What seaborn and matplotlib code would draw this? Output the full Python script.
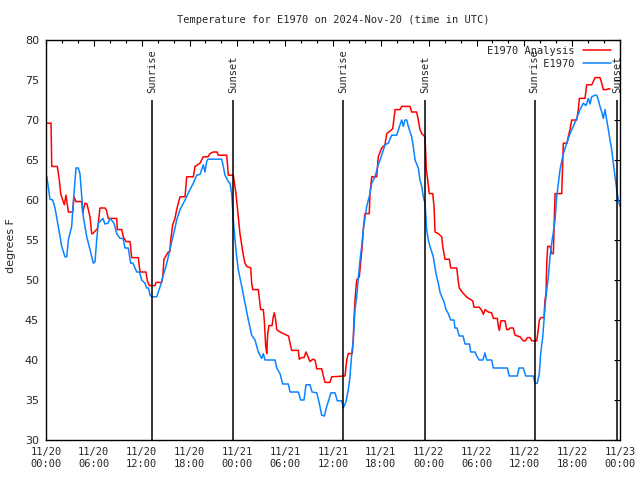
import pandas as pd
import numpy as np
import seaborn as sns
import matplotlib.dates as mdates
from matplotlib import pyplot as plt

# hours since 2024-11-20 00:00 UTC, temperature in degrees F
obs_hours = [0.09, 0.50, 0.84, 1.13, 1.54, 1.97, 2.38, 2.60, 2.80, 3.22, 3.42, 3.76, 4.05, 4.26,
             4.48, 4.68, 5.11, 5.52, 5.93, 6.15, 6.36, 6.56, 7.15, 7.40, 7.78, 8.03, 8.53, 8.87,
             9.28, 9.66, 9.91, 10.32, 10.62, 10.91, 11.38, 11.73, 12.00, 12.42, 12.63, 12.86,
             13.05, 13.26, 13.89, 14.09, 14.39, 14.71, 15.05, 15.34, 15.77, 16.18, 16.39, 16.81,
             17.44, 18.06, 18.48, 18.90, 19.32, 19.73, 19.94, 20.15, 20.32, 22.04, 22.24, 22.45,
             22.87, 23.08, 23.29, 23.50, 23.71, 23.92, 24.12, 24.55, 24.96, 25.38, 25.80, 26.22,
             26.63, 27.06, 27.26, 27.47, 28.73, 28.94, 29.35, 29.69, 30.39, 30.61, 31.65, 31.95,
             32.36, 32.61, 33.12, 33.37, 33.96, 34.28, 34.58, 34.91, 35.21, 35.41, 35.75, 36.25,
             36.54, 37.09, 37.29, 37.63, 37.92, 38.13, 38.35, 38.55, 38.76, 38.97, 39.17, 39.39,
             39.60, 39.80, 40.23, 40.64, 40.86, 41.27, 41.68, 42.11, 42.52, 42.94, 43.36, 43.99,
             44.41, 44.62, 44.82, 45.03, 45.25, 45.45, 45.87, 46.07, 46.29, 46.70, 46.91, 47.13,
             47.33, 47.54, 47.75, 47.95, 48.17, 48.58, 48.80, 49.01, 49.21, 49.42, 49.64, 49.92,
             50.18, 50.46, 50.76, 51.18, 51.30, 51.55, 51.84, 52.31, 52.56, 53.12, 53.27, 53.81,
             54.03, 54.35, 54.81, 55.06, 55.28, 55.90, 56.11, 57.87, 58.11, 59.12, 59.33, 59.87,
             60.17, 61.13, 61.34, 61.63, 61.88, 62.05, 62.31, 62.47, 62.63, 62.81, 63.01, 63.22,
             63.43, 63.64, 63.85, 64.06, 64.48, 64.89, 65.32, 65.73, 66.14, 66.57, 66.98, 67.40,
             67.74, 68.03, 68.24, 68.45, 68.86, 69.08, 69.28, 69.49, 69.71, 69.91, 70.12, 70.33,
             70.54, 70.75, 70.96, 71.16, 71.38, 71.59, 71.79, 72.00]
obs_temp = [63.0, 60.1, 60.0, 59.0, 56.7, 54.2, 52.9, 52.9, 55.0, 56.7, 59.6, 64.0, 64.0, 63.3,
            60.4, 57.9, 55.4, 53.8, 52.1, 52.3, 55.0, 57.1, 57.7, 57.0, 57.1, 57.7, 57.1, 55.8,
            55.2, 55.2, 54.0, 54.0, 52.1, 52.1, 51.0, 51.0, 50.0, 49.6, 49.0, 49.0,
            48.1, 47.9, 47.9, 48.5, 49.4, 50.6, 51.7, 52.9, 54.8, 56.5, 57.5, 58.8,
            60.0, 61.3, 62.1, 63.1, 63.2, 64.4, 63.5, 64.8, 65.1, 65.1, 64.2, 63.1,
            62.3, 62.1, 60.8, 57.5, 55.0, 52.9, 51.3, 49.2, 47.1, 45.0, 43.1, 42.5,
            41.0, 40.2, 40.8, 40.0, 40.0, 39.0, 38.3, 37.0, 37.0, 36.0, 36.0, 35.0,
            35.0, 36.9, 36.9, 36.0, 35.9, 34.6, 33.1, 33.0, 34.2, 34.8, 35.9, 35.9,
            34.9, 34.9, 34.0, 34.8, 36.3, 37.9, 40.8, 42.5, 46.3, 47.9, 50.2, 52.5,
            54.2, 56.3, 59.2, 60.8, 62.1, 62.9, 64.4, 65.6, 66.9, 67.1, 68.1, 68.1,
            69.4, 70.0, 69.2, 70.0, 70.0, 69.2, 67.9, 66.7, 65.0, 64.0, 62.5, 61.7,
            60.4, 59.6, 56.3, 55.0, 54.2, 52.9, 51.5, 50.4, 49.6, 48.5, 47.9, 47.3,
            46.3, 45.8, 45.0, 45.0, 44.0, 44.0, 43.0, 43.0, 42.0, 42.0, 41.0, 41.0,
            40.5, 40.0, 40.0, 40.9, 40.0, 40.0, 39.0, 39.0, 38.0, 38.0, 39.0, 39.0,
            38.0, 38.0, 37.1, 37.1, 38.3, 40.8, 42.9, 45.0, 47.1, 48.8, 50.4, 52.9,
            54.6, 56.0, 57.5, 60.4, 63.8, 65.8, 67.1, 68.3, 69.2, 70.2, 71.3, 72.1,
            71.8, 72.7, 72.0, 72.9, 73.1, 73.1, 72.5, 71.7, 71.0, 70.2, 71.3, 70.0,
            68.8, 67.5, 66.3, 64.6, 62.9, 61.3, 60.0, 59.2]

ana_hours = [0.00, 0.63, 0.72, 1.42, 1.67, 1.84, 2.09, 2.30, 2.51, 2.80, 3.35, 3.51, 3.76, 4.48,
             4.60, 4.89, 5.14, 5.31, 5.52, 5.73, 5.86, 6.44, 6.56, 6.77, 7.40, 7.59, 7.81, 8.87,
             8.94, 9.50, 9.70, 10.04, 10.54, 10.75, 11.58, 11.79, 12.54, 12.71, 12.96, 13.67,
             13.80, 14.51, 14.64, 14.80, 15.34, 15.55, 15.64, 15.89, 16.18, 16.39, 16.60, 16.81,
             17.44, 17.65, 18.48, 18.69, 19.32, 19.73, 20.32, 20.57, 20.99, 21.45, 21.61, 22.67,
             22.87, 23.50, 23.58, 23.83, 24.12, 24.33, 24.55, 24.75, 24.96, 25.17, 25.68, 25.80,
             25.93, 26.63, 26.84, 26.93, 27.26, 27.38, 27.56, 27.69, 27.81, 27.97, 28.35, 28.51,
             28.64, 28.81, 28.94, 29.35, 30.19, 30.42, 30.61, 30.82, 31.65, 31.77, 32.07, 32.36,
             32.61, 32.78, 33.12, 33.46, 33.75, 33.96, 34.58, 34.79, 35.00, 35.62, 35.84, 37.51,
             37.72, 37.92, 38.42, 38.55, 38.63, 38.76, 38.97, 39.30, 39.48, 39.68, 39.80, 40.01,
             40.55, 40.64, 40.86, 41.48, 41.68, 42.11, 42.52, 42.74, 43.49, 43.78, 44.41, 44.62,
             45.66, 45.87, 46.49, 46.70, 46.91, 47.13, 47.54, 47.71, 47.83, 48.08, 48.51, 48.67,
             48.80, 49.21, 49.64, 49.76, 49.92, 50.05, 50.59, 50.77, 51.52, 51.72, 51.84, 52.27,
             52.85, 53.52, 53.69, 54.35, 54.65, 54.86, 55.07, 55.48, 55.90, 56.11, 56.61, 56.74,
             56.86, 57.07, 57.58, 57.79, 58.01, 58.20, 58.61, 58.83, 59.46, 59.87, 60.15, 60.38,
             60.71, 60.93, 61.55, 61.75, 61.88, 62.09, 62.47, 62.59, 62.72, 62.81, 62.93, 63.22,
             63.43, 63.64, 63.72, 63.85, 64.69, 64.89, 65.35, 65.51, 65.73, 65.94, 66.57, 66.77,
             66.90, 67.61, 67.83, 68.45, 68.65, 68.86, 69.49, 69.71, 69.91, 70.33, 70.54, 70.75]
ana_temp = [69.6, 69.6, 64.2, 64.2, 62.5, 60.8, 60.0, 59.4, 60.6, 58.5, 58.5, 60.4, 59.8, 59.8,
            58.4, 59.6, 59.5, 58.8, 57.9, 55.8, 55.8, 56.4, 57.1, 59.0, 59.0, 58.7, 57.7, 57.7,
            56.3, 56.3, 55.4, 54.8, 54.8, 52.8, 52.8, 51.0, 51.0, 49.9, 49.3, 49.3,
            49.7, 49.7, 50.4, 52.6, 53.5, 53.6, 55.0, 56.9, 57.7, 58.8, 59.6, 60.4,
            60.4, 62.9, 62.9, 64.2, 64.6, 65.4, 65.4, 65.8, 66.0, 66.0, 65.6, 65.6,
            63.1, 63.1, 62.5, 60.8, 57.9, 55.8, 54.4, 53.1, 52.1, 51.7, 51.5, 49.6,
            48.8, 48.8, 47.1, 46.3, 46.3, 45.0, 41.7, 40.8, 43.3, 44.3, 44.3, 45.4,
            45.9, 45.0, 43.8, 43.5, 43.1, 43.0, 42.1, 41.2, 41.2, 40.1, 40.3, 40.3,
            41.0, 40.6, 39.8, 40.1, 40.0, 38.9, 38.9, 38.0, 37.2, 37.2, 37.9, 38.0,
            40.0, 40.8, 40.8, 42.9, 45.0, 47.5, 50.0, 50.4, 52.3, 54.4, 56.3, 58.3,
            58.3, 60.8, 62.9, 62.9, 65.4, 66.5, 66.9, 68.3, 68.9, 71.3, 71.3, 71.7,
            71.7, 71.0, 71.0, 70.0, 68.8, 68.3, 67.9, 63.8, 62.9, 60.8, 60.8, 59.2,
            56.0, 55.8, 55.4, 54.2, 53.3, 52.6, 52.6, 51.5, 51.5, 49.8, 49.0, 48.4,
            47.8, 47.4, 46.6, 46.6, 46.2, 45.7, 46.3, 46.0, 45.9, 45.2, 45.2, 44.2,
            43.7, 44.9, 44.9, 43.8, 43.8, 44.0, 44.0, 43.1, 42.9, 42.4, 42.4, 42.8,
            42.8, 42.4, 42.4, 43.8, 45.0, 45.3, 45.3, 47.5, 48.3, 52.1, 54.2, 54.2,
            53.3, 53.3, 56.3, 60.8, 60.8, 67.1, 67.1, 67.9, 68.8, 70.0, 70.0, 71.3,
            72.7, 72.7, 74.4, 74.4, 74.8, 75.3, 75.3, 74.6, 73.8, 73.8, 73.9, 73.9]

sun_events = ['Sunrise', 'Sunset', 'Sunrise', 'Sunset', 'Sunrise', 'Sunset']
sun_hours = [13.27, 23.50, 37.25, 47.57, 61.30, 71.60]

start = pd.Timestamp('2024-11-20 00:00')
df_obs = pd.DataFrame({'time': start + pd.to_timedelta(obs_hours, unit='h'), 'temp': obs_temp})
df_ana = pd.DataFrame({'time': start + pd.to_timedelta(ana_hours, unit='h'), 'temp': ana_temp})
sun_times = start + pd.to_timedelta(sun_hours, unit='h')

sns.set_style('white')
plt.rcParams['font.family'] = ['DejaVu Sans Mono']
mono = 7.5

fig, ax = plt.subplots(figsize=(6.4, 4.8), dpi=100)
fig.subplots_adjust(left=46/640, right=620/640, bottom=1 - 440/480, top=1 - 40/480)

sns.lineplot(data=df_ana, x='time', y='temp', ax=ax, color='#ff0000', lw=1.1,
             sort=False, estimator=None, label='E1970 Analysis')
sns.lineplot(data=df_obs, x='time', y='temp', ax=ax, color='#0a84ff', lw=1.1,
             sort=False, estimator=None, label='E1970'.rjust(14))

for t, name in zip(sun_times, sun_events):
    ax.vlines(t, 30, 72.5, color='black', lw=1.1)
    ax.text(t, 73.4, name, rotation=90, ha='center', va='bottom', fontsize=mono)

ax.set_xlim(start, start + pd.Timedelta(hours=72))
ax.set_ylim(30, 80)
ax.set_yticks(np.arange(30, 81, 5))
ax.xaxis.set_major_locator(mdates.HourLocator(byhour=range(0, 24, 6)))
ax.xaxis.set_minor_locator(mdates.HourLocator(byhour=range(0, 24, 2)))
ax.xaxis.set_major_formatter(mdates.DateFormatter('%m/%d\n%H:%M'))

ax.tick_params(which='both', direction='in', top=True, right=True, color='black')
ax.tick_params(which='major', length=4, width=0.8)
ax.tick_params(which='minor', length=2, width=0.8)
ax.tick_params(axis='x', labelsize=mono, pad=5)
ax.tick_params(axis='y', labelsize=mono + 0.5, pad=5)
for lab in ax.get_yticklabels():
    lab.set_family('DejaVu Sans')
for side in ax.spines.values():
    side.set_color('black')
    side.set_linewidth(1.0)

ax.set_xlabel('')
ax.set_ylabel('degrees F', family='DejaVu Sans', fontsize=mono + 0.5)
ax.yaxis.set_label_coords(-0.053, 0.485)
ax.set_title('Temperature for E1970 on 2024-Nov-20 (time in UTC)', fontsize=mono, pad=12.5)

ax.legend(loc='upper right', bbox_to_anchor=(0.985, 0.985), frameon=False, markerfirst=False,
          fontsize=mono, handlelength=2.7, handletextpad=0.8, labelspacing=0.25,
          borderpad=0, borderaxespad=0)

fig.savefig('out.png', dpi=100)
